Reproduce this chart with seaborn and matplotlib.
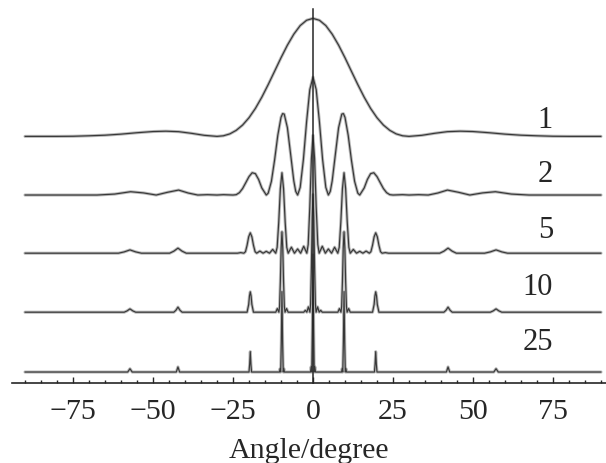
import seaborn as sns
import matplotlib.pyplot as plt
from matplotlib.ticker import MultipleLocator
import pandas as pd

# slit counts and where each trace sits
slits = [1, 2, 5, 10, 25]
labels = ["1", "2", "5", "10", "25"]

# traces (angle in degrees, intensity relative to central peak)
ang_n1 = [-90, -80, -75, -70, -65, -60, -55, -50, -46, -42, -38, -34, -30, -28, -26, -24, -22, -20, -18, -16,
          -14, -12, -10, -8, -6, -4, -2, 0, 2, 4, 6, 8, 10, 12, 14, 16, 18, 20, 22, 24, 26, 28, 30, 34, 38,
          42, 46, 50, 55, 60, 65, 70, 75, 80, 90]
int_n1 = [0.0, 0.0, 0.001, 0.005, 0.010, 0.019, 0.031, 0.041, 0.044, 0.040, 0.026, 0.009, 0.0, 0.005, 0.021,
          0.051, 0.096, 0.158, 0.237, 0.332, 0.439, 0.552, 0.666, 0.773, 0.866, 0.939, 0.984, 1.0, 0.984,
          0.939, 0.866, 0.773, 0.666, 0.552, 0.439, 0.332, 0.237, 0.158, 0.096, 0.051, 0.021, 0.005, 0.0,
          0.009, 0.026, 0.040, 0.044, 0.041, 0.031, 0.019, 0.010, 0.005, 0.001, 0.0, 0.0]

ang_n2 = [-90, -67.5, -62, -57, -53, -49, -45.5, -42, -39, -36, -33, -30, -28, -25, -24, -23, -22, -21, -20,
          -19, -18, -17, -16, -14.6, -14, -13, -12, -11, -10, -9.5, -9, -8, -7, -6, -5.4, -4.8, -4, -3, -2, -1,
          0, 1, 2, 3, 4, 4.8, 5.4, 6, 7, 8, 9, 9.5, 10, 11, 12, 13, 14, 14.6, 16, 17, 18, 19, 20, 21, 22, 23,
          24, 25, 28, 30, 33, 36, 39, 42, 45.5, 49, 53, 57, 62, 67.5, 90]
int_n2 = [0.0, 0.0, 0.008, 0.028, 0.018, 0.0, 0.023, 0.042, 0.017, 0.0, 0.003, 0.0, 0.003, 0.0, 0.003, 0.020,
          0.055, 0.105, 0.156, 0.189, 0.181, 0.132, 0.060, 0.0, 0.016, 0.116, 0.297, 0.506, 0.658, 0.690,
          0.686, 0.571, 0.347, 0.120, 0.031, 0.0, 0.065, 0.301, 0.622, 0.893,
          1.0, 0.893, 0.622, 0.301, 0.065, 0.0, 0.031, 0.120, 0.347, 0.571, 0.686, 0.690, 0.658, 0.506, 0.297,
          0.116, 0.016, 0.0, 0.060, 0.132, 0.181, 0.189, 0.156, 0.105, 0.055, 0.020, 0.003, 0.0, 0.003, 0.0,
          0.003, 0.0, 0.017, 0.042, 0.023, 0.0, 0.018, 0.028, 0.008, 0.0, 0.0]

ang_n5 = [-90, -60.8, -59.0, -57.2, -55.4, -53.6, -44.8, -43.5, -42.2, -40.9, -39.6, -23.6, -22.6, -21.6,
          -21.1, -20.6, -20.1, -19.6, -19.1, -18.6, -18.1, -17.6, -16.6, -15.6, -14.6, -13.6, -12.6, -11.65,
          -11.2, -10.7, -10.2, -9.7, -9.2, -8.7, -8.2, -7.75, -6.75, -5.8, -4.8, -3.86, -2.9, -1.93, -1.5,
          -1.0, -0.5,
          0, 0.5, 1.0, 1.5, 1.93, 2.9, 3.86, 4.8, 5.8, 6.75, 7.75, 8.2, 8.7, 9.2, 9.7, 10.2, 10.7, 11.2, 11.65,
          12.6, 13.6, 14.6, 15.6, 16.6, 17.6, 18.1, 18.6, 19.1, 19.6, 20.1, 20.6, 21.1, 21.6, 22.6, 23.6, 39.6,
          40.9, 42.2, 43.5, 44.8, 53.6, 55.4, 57.2, 59.0, 60.8, 90]
int_n5 = [0.0, 0.0, 0.011, 0.028, 0.011, 0.0, 0.0, 0.017, 0.043, 0.017, 0.0, 0.0, 0.005, 0.0, 0.013, 0.067,
          0.139, 0.173, 0.139, 0.067, 0.013, 0.0, 0.018, 0.0, 0.016, 0.0, 0.032, 0.0, 0.050, 0.265, 0.547,
          0.682, 0.547, 0.265, 0.050, 0.0, 0.051, 0.0, 0.036, 0.0, 0.059, 0.0, 0.074, 0.39, 0.80,
          1.0, 0.80, 0.39, 0.074, 0.0, 0.059, 0.0, 0.036, 0.0, 0.051, 0.0, 0.050, 0.265, 0.547, 0.682, 0.547,
          0.265, 0.050, 0.0, 0.032, 0.0, 0.016, 0.0, 0.018, 0.0, 0.013, 0.067, 0.139, 0.173, 0.139, 0.067,
          0.013, 0.0, 0.005, 0.0, 0.0, 0.017, 0.043, 0.017, 0.0, 0.0, 0.011, 0.028, 0.011, 0.0, 0.0]

ang_n10 = [-90, -59.0, -58.1, -57.2, -56.3, -55.4, -43.5, -42.85, -42.2, -41.55, -40.9, -20.6, -20.1, -19.85,
           -19.6, -19.35, -19.1, -18.6, -11.63, -11.15, -10.66, -10.45, -10.2, -9.95, -9.7, -9.45, -9.2, -8.95,
           -8.74, -8.25, -7.77, -2.9, -2.4, -1.93, -1.45, -0.96, -0.75, -0.5, -0.25,
           0, 0.25, 0.5, 0.75, 0.96, 1.45, 1.93, 2.4, 2.9, 7.77, 8.25, 8.74, 8.95, 9.2, 9.45, 9.7, 9.95, 10.2,
           10.45, 10.66, 11.15, 11.63, 18.6, 19.1, 19.35, 19.6, 19.85, 20.1, 20.6, 40.9, 41.55, 42.2, 42.85,
           43.5, 55.4, 56.3, 57.2, 58.1, 59.0, 90]
int_n10 = [0.0, 0.0, 0.011, 0.028, 0.011, 0.0, 0.0, 0.016, 0.043, 0.016, 0.0, 0.0, 0.065, 0.138, 0.173, 0.138,
           0.065, 0.0, 0.0, 0.031, 0.0, 0.048, 0.258, 0.545, 0.682, 0.545, 0.258, 0.048, 0.0, 0.031, 0.0, 0.0,
           0.016, 0.0, 0.045, 0.0, 0.070, 0.378, 0.80,
           1.0, 0.80, 0.378, 0.070, 0.0, 0.045, 0.0, 0.016, 0.0, 0.0, 0.031, 0.0, 0.048, 0.258, 0.545, 0.682,
           0.545, 0.258, 0.048, 0.0, 0.031, 0.0, 0.0, 0.065, 0.138, 0.173, 0.138, 0.065, 0.0, 0.0, 0.016, 0.043,
           0.016, 0.0, 0.0, 0.011, 0.028, 0.011, 0.0, 0.0]

ang_n25 = [-90, -57.9, -57.2, -56.5, -42.72, -42.2, -41.68, -20.0, -19.8, -19.6, -19.4, -19.2, -10.47, -10.28,
           -10.1, -9.9, -9.7, -9.5, -9.3, -9.12, -8.93, -0.77, -0.58, -0.385, -0.2,
           0, 0.2, 0.385, 0.58, 0.77, 8.93, 9.12, 9.3, 9.5, 9.7, 9.9, 10.1, 10.28, 10.47, 19.2, 19.4, 19.6,
           19.8, 20.0, 41.68, 42.2, 42.72, 56.5, 57.2, 57.9, 90]
int_n25 = [0.0, 0.0, 0.028, 0.0, 0.0, 0.043, 0.0, 0.0, 0.065, 0.173, 0.065, 0.0, 0.0, 0.03, 0.0, 0.256, 0.682,
           0.256, 0.0, 0.03, 0.0, 0.0, 0.045, 0.0, 0.375,
           1.0, 0.375, 0.0, 0.045, 0.0, 0.0, 0.03, 0.0, 0.256, 0.682, 0.256, 0.0, 0.03, 0.0, 0.0, 0.065, 0.173,
           0.065, 0.0, 0.0, 0.043, 0.0, 0.0, 0.028, 0.0, 0.0]

angles = [ang_n1, ang_n2, ang_n5, ang_n10, ang_n25]
intens = [int_n1, int_n2, int_n5, int_n10, int_n25]

# vertical stacking (one unit = central peak height)
baseline = {1: 2.09, 2: 1.593, 5: 1.10, 10: 0.60, 25: 0.093}
label_y = {1: 2.169, 2: 1.712, 5: 1.237, 10: 0.754, 25: 0.288}

frames = []
for n, a, i in zip(slits, angles, intens):
    d = pd.DataFrame({"angle": a, "intensity": i})
    d["N"] = n
    d["y"] = d["intensity"] + baseline[n]
    frames.append(d)
df = pd.concat(frames, ignore_index=True)

sns.set_style("ticks")
plt.rcParams["font.family"] = ["Liberation Serif", "DejaVu Serif"]
plt.rcParams["axes.unicode_minus"] = True

fig = plt.figure(figsize=(6.06, 4.64), dpi=100)
ax = fig.add_axes([12 / 606, 80 / 464, 594 / 606, 384 / 464])

# grey halo + dark core, like the scanned figure
sns.lineplot(data=df, x="angle", y="y", units="N", estimator=None, sort=False,
             color="0.72", lw=2.2, ax=ax, legend=False)
sns.lineplot(data=df, x="angle", y="y", units="N", estimator=None, sort=False,
             color="0.22", lw=0.85, ax=ax, legend=False)

for n, lab in zip(slits, labels):
    ax.text(75, label_y[n], lab, ha="right", va="baseline", fontsize=22)

ax.set_xlim(-94.06, 91.56)
ax.set_ylim(0, 384 / 118)

ax.spines["top"].set_visible(False)
ax.spines["right"].set_visible(False)
ax.spines["left"].set_position(("data", 0))
ax.spines["left"].set_bounds(0, 374 / 118)
ax.spines["left"].set_linewidth(1.1)
ax.spines["bottom"].set_linewidth(1.2)
ax.set_yticks([])

ax.set_xticks([-75, -50, -25, 0, 25, 50, 75])
ax.xaxis.set_minor_locator(MultipleLocator(5))
ax.tick_params(axis="x", which="major", direction="in", length=4.2, width=1.0,
               labelsize=21.5, pad=11)
ax.tick_params(axis="x", which="minor", direction="in", length=2.4, width=1.0)

ax.set_xlabel("Angle/degree", fontsize=21.5, labelpad=9)
ax.set_ylabel("")

plt.savefig("out.png", dpi=100)
plt.close()
